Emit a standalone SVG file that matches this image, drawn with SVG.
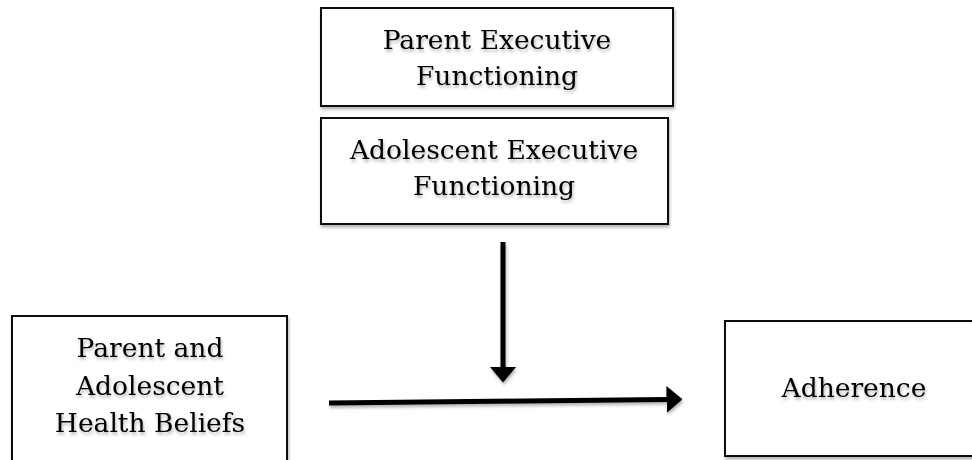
<svg xmlns="http://www.w3.org/2000/svg" width="972" height="460" viewBox="0 0 972 460">
  <defs>
    <filter id="shadow" x="-10%" y="-10%" width="130%" height="140%">
      <feDropShadow dx="1" dy="2.5" stdDeviation="1.8" flood-color="#000" flood-opacity="0.3"/>
    </filter>
    <marker id="head" viewBox="0 0 16 27" refX="0.5" refY="13.5" markerWidth="16" markerHeight="27" markerUnits="userSpaceOnUse" orient="auto">
      <path d="M0,0 L16,13.5 L0,27 Z" fill="#000"/>
    </marker>
  </defs>
  <style>
    .box { fill: #fff; stroke: #111; stroke-width: 2; }
    .lbl { font-family: "DejaVu Serif", "Liberation Serif", serif; font-size: 26.5px; fill: #000; text-anchor: middle; }
    .arrow { stroke: #000; stroke-width: 5; fill: none; }
  </style>
  <rect width="972" height="460" fill="#fff"/>

  <g id="parent-ef">
    <rect class="box" x="321" y="8" width="352" height="98" filter="url(#shadow)"/>
    <g filter="url(#shadow)">
      <text class="lbl" x="497" y="49">Parent Executive</text>
      <text class="lbl" x="497" y="85">Functioning</text>
    </g>
  </g>

  <g id="adolescent-ef">
    <rect class="box" x="321" y="118" width="347" height="106" filter="url(#shadow)"/>
    <g filter="url(#shadow)">
      <text class="lbl" x="494" y="159">Adolescent Executive</text>
      <text class="lbl" x="494" y="195">Functioning</text>
    </g>
  </g>

  <g id="health-beliefs">
    <rect class="box" x="12" y="316" width="275" height="160" filter="url(#shadow)"/>
    <g filter="url(#shadow)">
      <text class="lbl" x="150" y="357">Parent and</text>
      <text class="lbl" x="150" y="395">Adolescent</text>
      <text class="lbl" x="150" y="432">Health Beliefs</text>
    </g>
  </g>

  <g id="adherence">
    <rect class="box" x="725" y="321" width="270" height="135" filter="url(#shadow)"/>
    <g filter="url(#shadow)">
      <text class="lbl" x="854" y="397">Adherence</text>
    </g>
  </g>

  <g id="connectors" filter="url(#shadow)">
    <line class="arrow" x1="503" y1="242" x2="503" y2="367" marker-end="url(#head)"/>
    <line class="arrow" x1="329" y1="403" x2="667" y2="399.5" marker-end="url(#head)"/>
  </g>
</svg>
